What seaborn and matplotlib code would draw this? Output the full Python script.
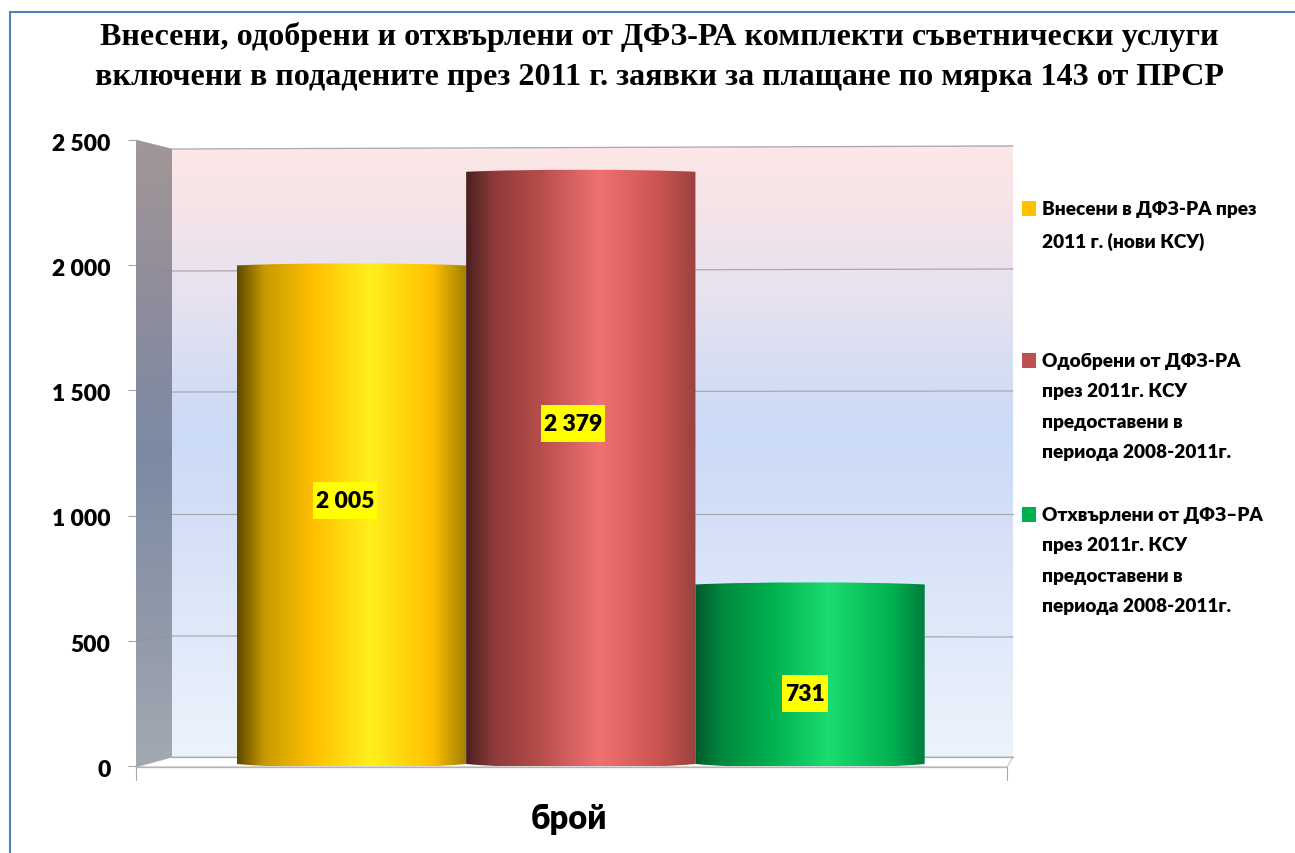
import numpy as np
import pandas as pd
import matplotlib
matplotlib.use("Agg")
import matplotlib.pyplot as plt
import seaborn as sns
from matplotlib.colors import LinearSegmentedColormap
from matplotlib.patches import Polygon, Rectangle, PathPatch
from matplotlib.path import Path
from matplotlib.transforms import ScaledTranslation

W, H = 1295, 854

title_text = ("Внесени, одобрени и отхвърлени от ДФЗ-РА комплекти съветнически услуги\n"
              "включени в подадените през 2011 г. заявки за плащане по мярка 143 от ПРСР")
categories = ["Внесени в ДФЗ-РА през\n2011 г. (нови КСУ)",
              "Одобрени от ДФЗ-РА\nпрез 2011г. КСУ\nпредоставени в\nпериода 2008-2011г.",
              "Отхвърлени от ДФЗ–РА\nпрез 2011г. КСУ\nпредоставени в\nпериода 2008-2011г."]
values = [2005, 2379, 731]
value_labels = ["2 005", "2 379", "731"]
y_ticks = [0, 500, 1000, 1500, 2000, 2500]
y_tick_labels = ["0", "500", "1 000", "1 500", "2 000", "2 500"]
x_label = "брой"

SANS = "Lato"
HEAVY = 800

sns.set_theme(style="white")
fig = plt.figure(figsize=(W / 100, H / 100), dpi=100, facecolor="white")

# front plane of the chart
ax = fig.add_axes([136 / W, 1 - 767 / H, (1007 - 136) / W, (767 - 141) / H])
ax.patch.set_alpha(0)
df = pd.DataFrame({"cat": categories, "val": values})
palette = ["#ffc000", "#c0504d", "#00b050"]
sns.barplot(data=df, x="cat", y="val", hue="cat", palette=palette, width=1, legend=False, ax=ax, zorder=3)
ax.set_xlim(-0.94, 2.859)
ax.set_ylim(0, 2500)
ax.set_yticks(y_ticks)
ax.set_yticklabels(y_tick_labels, fontsize=16.5, fontweight=HEAVY, family=SANS, color="black")
ax.set_xticks([])
ax.set_xlabel("")
ax.set_ylabel("")
ax.tick_params(axis="y", left=True, length=5.8, width=0.8, color="#a6a6a6", pad=12.5)
for lab in ax.get_yticklabels():
    lab.set_transform(lab.get_transform() + ScaledTranslation(0, -1 / 72, fig.dpi_scale_trans))
sns.despine(ax=ax, left=True, bottom=True, top=True, right=True)

# back wall, side wall and floor
wall_cmap = LinearSegmentedColormap.from_list("wall", [(0, "#fde7e6"), (0.12, "#f3e3e9"), (0.25, "#e6e2ef"),
                                                        (0.38, "#d5ddf3"), (0.47, "#cbdaf6"), (0.58, "#d2def7"),
                                                        (0.75, "#dde7f9"), (1, "#edf3fd")])
side_cmap = LinearSegmentedColormap.from_list("side", [(0, "#a29797"), (0.25, "#8f8c9c"), (0.5, "#7b8aa3"),
                                                        (0.75, "#8f98a8"), (1, "#a3a8b2")])


def gradient(points, cmap, zorder=0):
    xs, ys = zip(*points)
    im = fig.add_axes([0, 0, 1, 1], label=str(points), zorder=zorder)
    im.set_axis_off()
    img = im.imshow(np.linspace(0, 1, 256).reshape(-1, 1), cmap=cmap, aspect="auto",
                    extent=[min(xs), max(xs), max(ys), min(ys)])
    im.set_xlim(0, W)
    im.set_ylim(H, 0)
    poly = Polygon(points, closed=True, transform=im.transData, facecolor="none", edgecolor="none")
    im.add_patch(poly)
    img.set_clip_path(poly)
    return im


back = gradient([(172, 150), (1013, 146), (1013, 758), (172, 758)], wall_cmap, zorder=-3)
side = gradient([(136, 141), (172, 150), (172, 758), (136, 768)], side_cmap, zorder=-3)
deco = fig.add_axes([0, 0, 1, 1], zorder=-2)
deco.set_axis_off()
deco.set_xlim(0, W)
deco.set_ylim(H, 0)
deco.add_patch(Polygon([(136, 768), (172, 758), (1013, 758), (1007, 768)], facecolor="white",
                       edgecolor="#c4c4c4", lw=0.8))
wall_left = [150, 272, 393, 515, 637, 758]
wall_right = [147, 270, 392, 515, 638, 758]
front_y = [141, 266, 391, 516, 642, 767]
for yl, yr, yf in zip(wall_left, wall_right, front_y):
    deco.plot([172, 1013], [yl, yr], color="#a9a9b2", lw=0.9)
    deco.plot([136, 172], [yf, yl], color="#8a8a92", lw=0.6, alpha=0.5)
deco.plot([136, 136], [767, 781], color="#a6a6a6", lw=0.8)
deco.plot([1007, 1007], [768, 781], color="#a6a6a6", lw=0.8)
deco.plot([136, 1007], [768, 768], color="#b5b5b5", lw=1)

# everything on top: legend, titles, value labels
over = fig.add_axes([0, 0, 1, 1], zorder=5)
over.set_axis_off()
over.patch.set_alpha(0)
over.set_xlim(0, W)
over.set_ylim(H, 0)

# cylinders: each bar is repainted with a horizontal shading clipped to a rounded shape
shades = [
    ["#5f4a00", "#c99a00", "#ffc000", "#fff01c", "#ffc000", "#a08000"],
    ["#4a2020", "#8e3a3a", "#b84e4c", "#f07272", "#c9524f", "#9a4240"],
    ["#005a2c", "#008a40", "#00b04f", "#1bdc70", "#00b351", "#007d3d"],
]
stops = [0, 0.12, 0.33, 0.58, 0.85, 1]
label_shift = [(-6.5, 16), (-8, 47), (-5, -17)]  # pixels from the middle of each bar
renderer = fig.canvas.get_renderer()
for bar, colors, val, lab, shift in zip(ax.patches, shades, values, value_labels, label_shift):
    x0, w = bar.get_x(), bar.get_width()
    x1 = x0 + w
    cmap = LinearSegmentedColormap.from_list("bar", list(zip(stops, colors)))
    bar.set_visible(False)
    top_edge = val - 6
    top_ctrl = val + 5
    low_edge = 8
    low_ctrl = -13
    verts = [(x0, top_edge),
             (x0 + w * 0.25, top_ctrl), (x0 + w * 0.75, top_ctrl), (x1, top_edge),
             (x1, low_edge),
             (x1 - w * 0.25, low_ctrl), (x0 + w * 0.25, low_ctrl), (x0, low_edge),
             (x0, top_edge)]
    codes = [Path.MOVETO, Path.CURVE4, Path.CURVE4, Path.CURVE4, Path.LINETO,
             Path.CURVE4, Path.CURVE4, Path.CURVE4, Path.CLOSEPOLY]
    shape = PathPatch(Path(verts, codes), transform=ax.transData, facecolor="none", edgecolor="none", clip_on=False)
    ax.add_patch(shape)
    img = ax.imshow(np.linspace(0, 1, 256).reshape(1, -1), cmap=cmap, aspect="auto",
                    extent=[x0, x1, low_ctrl, top_ctrl], zorder=3)
    img.set_clip_path(shape)
    ax.set_xlim(-0.94, 2.859)
    ax.set_ylim(0, 2500)
    t = over.annotate(lab, (x0 + w / 2, val / 2), xycoords=ax.transData, xytext=(shift[0], shift[1]),
                      textcoords="offset pixels", ha="center", va="center_baseline", fontsize=16.5,
                      fontweight=HEAVY, family=SANS, color="black", zorder=6)
    box = t.get_window_extent(renderer).transformed(over.transData.inverted())
    cx = (box.x0 + box.x1) / 2
    cy = (box.y0 + box.y1) / 2
    bw = abs(box.x1 - box.x0) + 6
    over.add_patch(Rectangle((cx - bw / 2, cy - 18.5), bw, 37, facecolor="#ffff00", edgecolor="none", zorder=5))

# legend
legend_y = [210, 362, 516]
for cat, col, y in zip(categories, palette, legend_y):
    over.add_patch(Rectangle((1022, y - 8), 14, 15, facecolor=col, edgecolor="none"))
    over.text(1042, y - 9, cat, ha="left", va="top", fontsize=13.7, fontweight=HEAVY, family=SANS,
              color="black", linespacing=1.96)

over.text(659, 57, title_text, ha="center", va="center", fontsize=23.15, fontweight="bold",
          family="Liberation Serif", color="black", linespacing=1.49)
over.text(569, 819, x_label, ha="center", va="center", fontsize=23.5, fontweight=HEAVY, family=SANS, color="black")

# slide frame
over.plot([10, 10, W], [H, 12.5, 12.5], color="#4f81bd", lw=1.5, solid_joinstyle="miter")

fig.savefig("out.png", dpi=100)
